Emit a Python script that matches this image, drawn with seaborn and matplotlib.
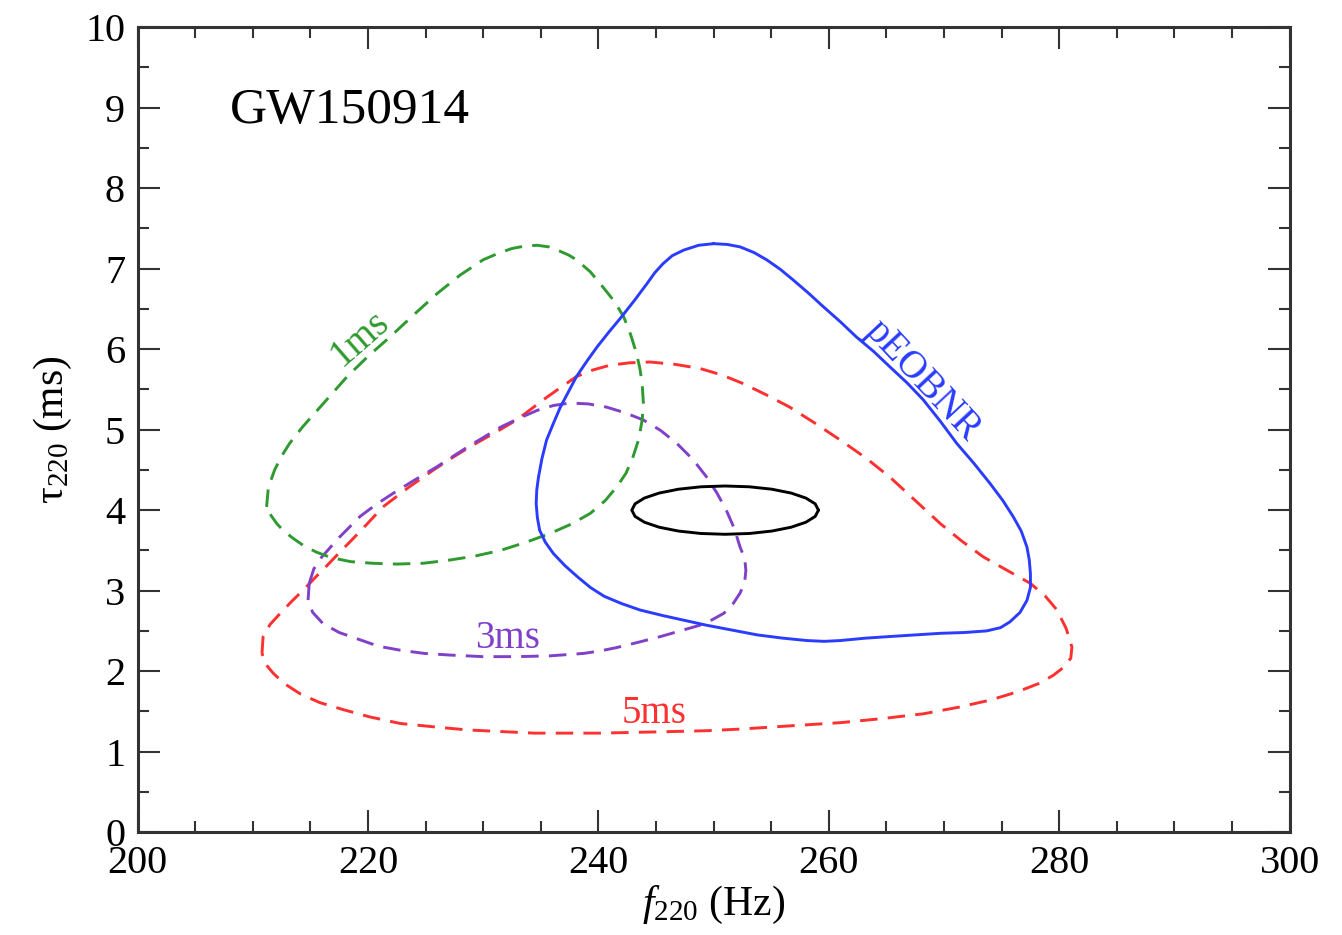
import matplotlib
matplotlib.use("Agg")
import matplotlib.pyplot as plt
from matplotlib.ticker import MultipleLocator
import seaborn as sns

# contour outlines (f220 in Hz, tau220 in ms)
f_1ms = [211.2, 211.35, 211.9, 212.5, 213.2, 214.3, 215.6, 216.9, 218.2, 220.0,
         221.9, 224.0, 226.0, 228.0, 230.0, 231.3, 232.5, 233.6, 234.7, 235.7,
         236.6, 237.4, 238.1, 239.3, 240.4, 241.4, 242.2, 242.8, 243.3, 243.6,
         243.8, 243.9, 243.8, 243.5, 243.0, 242.4, 241.6, 240.6, 239.3, 237.7,
         235.8, 233.7, 231.5, 229.3, 227.1, 224.8, 222.5, 220.4, 218.5, 216.8,
         215.5, 214.4, 213.5, 212.7, 212.1, 211.6, 211.2]
tau_1ms = [4.04, 4.28, 4.50, 4.67, 4.83, 5.03, 5.24, 5.45, 5.66, 5.91,
           6.15, 6.43, 6.69, 6.92, 7.11, 7.19, 7.25, 7.28, 7.29, 7.27,
           7.22, 7.17, 7.11, 6.96, 6.77, 6.59, 6.40, 6.18, 5.95, 5.76,
           5.57, 5.34, 5.12, 4.88, 4.66, 4.46, 4.29, 4.12, 3.96, 3.83,
           3.71, 3.60, 3.50, 3.43, 3.38, 3.34, 3.33, 3.34, 3.36, 3.41,
           3.48, 3.56, 3.65, 3.74, 3.83, 3.93, 4.04]

f_3ms = [214.9, 215.3, 216.0, 217.5, 219.3, 220.7, 222.2, 224.0, 226.0, 228.7,
         231.5, 233.1, 234.7, 236.1, 237.5, 239.1, 240.7, 242.3, 243.9, 245.4,
         246.8, 248.2, 249.4, 250.3, 251.1, 251.8, 252.3, 252.7, 252.8, 252.7,
         252.3, 251.7, 250.9, 249.9, 248.8, 247.1, 245.4, 243.5, 241.5, 240.1,
         238.7, 235.8, 232.9, 230.0, 227.1, 224.9, 222.8, 220.9, 219.3, 217.5,
         216.1, 215.2, 214.8, 214.9]
tau_3ms = [3.09, 3.27, 3.42, 3.66, 3.92, 4.07, 4.21, 4.37, 4.54, 4.79,
           5.03, 5.14, 5.24, 5.30, 5.33, 5.32, 5.28, 5.21, 5.12, 4.99,
           4.83, 4.63, 4.41, 4.21, 4.00, 3.77, 3.54, 3.40, 3.25, 3.11,
           2.97, 2.84, 2.72, 2.64, 2.57, 2.50, 2.43, 2.36, 2.29, 2.25,
           2.22, 2.19, 2.18, 2.18, 2.20, 2.22, 2.26, 2.31, 2.39, 2.48,
           2.59, 2.73, 2.88, 3.09]

f_5ms = [210.8, 210.85, 210.9, 211.5, 212.4, 213.4, 214.4, 215.4, 216.5, 217.5,
         218.6, 220.0, 221.3, 223.5, 225.7, 227.3, 229.0, 231.0, 232.9, 234.2,
         235.5, 236.8, 238.1, 239.5, 241.0, 242.7, 244.5, 246.7, 248.8, 250.7,
         252.6, 254.6, 256.6, 258.8, 261.0, 263.2, 265.3, 267.5, 269.7, 271.5,
         273.4, 275.5, 277.5, 278.8, 279.8, 280.6, 281.1, 281.0, 280.4, 279.5,
         278.3, 276.3, 274.0, 271.2, 268.2, 264.6, 261.0, 256.6, 252.3, 249.4,
         246.5, 243.3, 240.1, 237.2, 234.4, 231.5, 228.6, 225.6, 222.8, 220.2,
         217.9, 215.8, 214.1, 212.8, 211.8, 211.1, 210.8]
tau_5ms = [2.22, 2.33, 2.43, 2.58, 2.72, 2.87, 3.01, 3.16, 3.32, 3.47,
           3.63, 3.84, 4.04, 4.28, 4.50, 4.65, 4.80, 4.96, 5.12, 5.26,
           5.40, 5.53, 5.66, 5.74, 5.80, 5.83, 5.84, 5.81, 5.76, 5.68,
           5.57, 5.43, 5.28, 5.08, 4.87, 4.65, 4.41, 4.12, 3.83, 3.62,
           3.42, 3.25, 3.09, 2.93, 2.76, 2.53, 2.30, 2.16, 2.05, 1.95,
           1.85, 1.74, 1.64, 1.55, 1.47, 1.41, 1.36, 1.32, 1.28, 1.26,
           1.25, 1.24, 1.23, 1.23, 1.23, 1.25, 1.27, 1.31, 1.35, 1.43,
           1.52, 1.61, 1.72, 1.84, 1.97, 2.09, 2.22]

f_peob = [250.0, 248.7, 247.4, 246.4, 245.6, 244.9, 244.2, 243.1, 242.0, 240.9,
          239.9, 239.0, 238.1, 237.4, 236.7, 236.1, 235.5, 235.1, 234.8, 234.65,
          234.6, 234.7, 234.9, 235.4, 236.1, 237.1, 238.2, 239.3, 240.5, 242.0,
          243.6, 245.6, 247.5, 249.4, 251.6, 253.8, 256.0, 258.1, 259.6, 261.0,
          263.2, 265.3, 267.5, 269.7, 271.8, 273.7, 274.9, 275.7, 276.6, 277.2,
          277.5, 277.5, 277.4, 277.2, 276.7, 276.0, 275.1, 274.0, 272.6, 271.1,
          269.7, 268.2, 266.8, 265.3, 263.9, 262.4, 261.0, 259.5, 258.2, 256.9,
          255.8, 254.6, 253.5, 252.3, 251.2, 250.0]
tau_peob = [7.31, 7.29, 7.23, 7.16, 7.06, 6.95, 6.81, 6.60, 6.40, 6.21,
            6.03, 5.85, 5.66, 5.47, 5.28, 5.08, 4.87, 4.64, 4.41, 4.25,
            4.08, 3.91, 3.75, 3.60, 3.46, 3.31, 3.17, 3.04, 2.93, 2.84,
            2.76, 2.69, 2.63, 2.57, 2.51, 2.45, 2.41, 2.38, 2.37, 2.38,
            2.41, 2.43, 2.45, 2.47, 2.48, 2.50, 2.54, 2.61, 2.73, 2.88,
            3.04, 3.21, 3.38, 3.54, 3.74, 3.92, 4.12, 4.33, 4.58, 4.83,
            5.10, 5.37, 5.58, 5.78, 5.97, 6.15, 6.34, 6.53, 6.70, 6.86,
            6.99, 7.11, 7.20, 7.27, 7.30, 7.31]

f_inj = [259.10, 258.82, 258.01, 256.73, 255.05, 253.10, 251.00, 248.90, 246.95,
         245.27, 243.99, 243.18, 242.90, 243.18, 243.99, 245.27, 246.95, 248.90,
         251.00, 253.10, 255.05, 256.73, 258.01, 258.82, 259.10]
tau_inj = [4.000, 4.078, 4.150, 4.212, 4.260, 4.290, 4.300, 4.290, 4.260,
           4.212, 4.150, 4.078, 4.000, 3.922, 3.850, 3.788, 3.740, 3.710,
           3.700, 3.710, 3.740, 3.788, 3.850, 3.922, 4.000]

sns.set_style("ticks")
plt.rcParams['font.family'] = ['Liberation Serif', 'DejaVu Serif']
plt.rcParams['mathtext.fontset'] = 'custom'
plt.rcParams['mathtext.rm'] = 'Liberation Serif'
plt.rcParams['mathtext.it'] = 'Liberation Serif:italic'
plt.rcParams['text.color'] = 'black'
plt.rcParams['axes.labelcolor'] = 'black'
plt.rcParams['xtick.color'] = 'black'
plt.rcParams['ytick.color'] = 'black'

fig, ax = plt.subplots(figsize=(13.42, 9.35), dpi=100)
fig.subplots_adjust(left=0.1025, right=0.961, bottom=0.110, top=0.971)

green = '#2f9a2f'
purple = '#8040c8'
red = '#ff3030'
blue = '#2a3cff'

dash = (0, (6, 3.5))
lw = 2.1
sns.lineplot(x=f_5ms, y=tau_5ms, sort=False, estimator=None, color=red, lw=lw, linestyle=dash, ax=ax)
sns.lineplot(x=f_3ms, y=tau_3ms, sort=False, estimator=None, color=purple, lw=lw, linestyle=dash, ax=ax)
sns.lineplot(x=f_1ms, y=tau_1ms, sort=False, estimator=None, color=green, lw=lw, linestyle=dash, ax=ax)
sns.lineplot(x=f_peob, y=tau_peob, sort=False, estimator=None, color=blue, lw=lw, ax=ax)
sns.lineplot(x=f_inj, y=tau_inj, sort=False, estimator=None, color='black', lw=lw, ax=ax)

ax.text(208.0, 8.81, 'GW150914', fontsize=37, ha='left', va='baseline')
ax.text(219.3, 6.13, '1ms', fontsize=28, color=green, rotation=41, ha='center', va='center')
ax.text(232.1, 2.29, '3ms', fontsize=28, color=purple, ha='center', va='baseline')
ax.text(244.8, 1.35, '5ms', fontsize=28, color=red, ha='center', va='baseline')
ax.text(268.1, 5.61, 'pEOBNR', fontsize=28, color=blue, rotation=-47, ha='center', va='center')

ax.set_xlim(200, 300)
ax.set_ylim(0, 10)
ax.xaxis.set_major_locator(MultipleLocator(20))
ax.xaxis.set_minor_locator(MultipleLocator(5))
ax.yaxis.set_major_locator(MultipleLocator(1))
ax.yaxis.set_minor_locator(MultipleLocator(0.5))
ax.tick_params(which='both', direction='in', top=True, right=True, width=1.5, color='#333333')
ax.tick_params(which='major', length=16, labelsize=29, pad=9)
ax.tick_params(which='minor', length=8)
for s in ax.spines.values():
    s.set_linewidth(2.2)
    s.set_color('#333333')

ax.set_xlabel('$f_{220}$ (Hz)', fontsize=30, labelpad=2)
ax.set_ylabel('τ$_{220}$ (ms)', fontsize=30, labelpad=8)

fig.savefig('out.png', dpi=100)
